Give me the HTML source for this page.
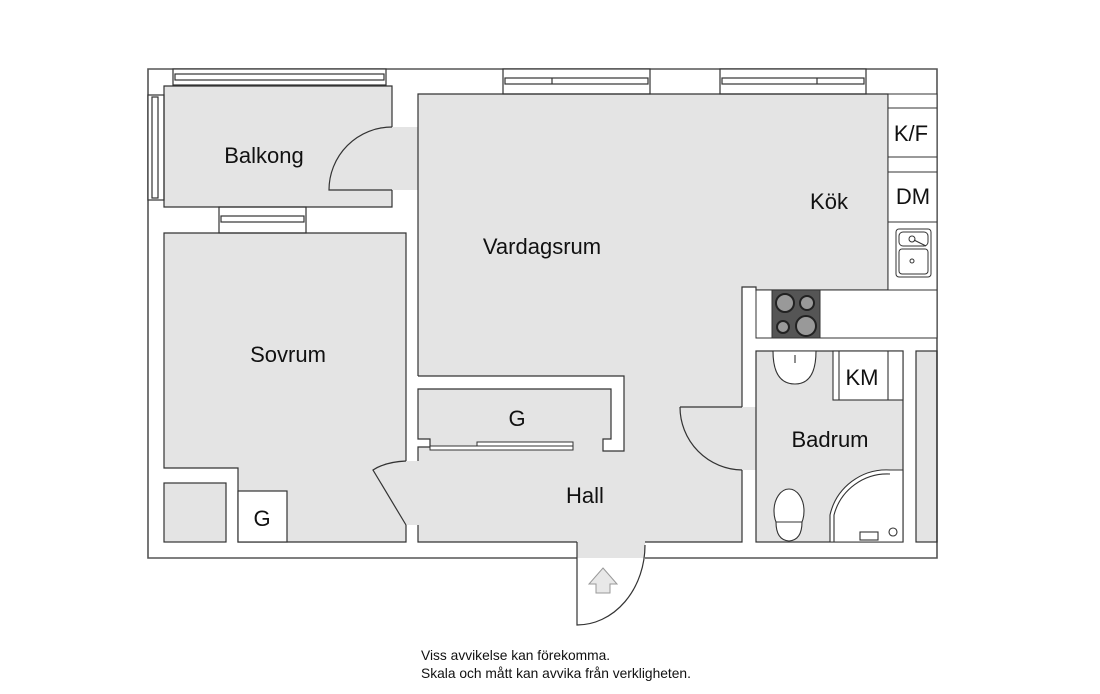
<!DOCTYPE html>
<html><head><meta charset="utf-8"><style>
html,body{margin:0;padding:0;background:#fff;}
svg{display:block;}
text{font-family:"Liberation Sans",Arial,sans-serif;fill:#111;}
</style></head><body>
<svg width="1100" height="694" viewBox="0 0 1100 694" xmlns="http://www.w3.org/2000/svg">
<g fill="#e4e4e4" stroke="none">
<rect x="164" y="86" width="228" height="121"/>
<rect x="392" y="127" width="26" height="63"/>
<polygon points="164,233 406,233 406,542 238,542 238,468 164,468"/>
<polygon points="418,94 888,94 888,290 756,290 756,287 742,287 742,542 418,542"/>
<rect x="406" y="461" width="12" height="64"/>
<path d="M406,461 Q385,462 373,470 L406,525 Z"/>
<rect x="742" y="407" width="14" height="63"/>
<rect x="577" y="542" width="68" height="16"/>
<rect x="756" y="351" width="147" height="191"/>
<rect x="916" y="351" width="21" height="191"/>
<rect x="164" y="483" width="62" height="59"/>
</g>
<polygon points="418,376 624,376 624,451 603,451 603,439 611,439 611,389 418,389" fill="#fff"/>
<rect x="418" y="439" width="12" height="8" fill="#fff"/>
<g fill="none" stroke="#555" stroke-width="1.6">
<polyline points="577,558 148,558 148,69 937,69 937,558 645,558"/>
</g>
<g fill="#fff" stroke="#333" stroke-width="1.2">
<rect x="173" y="69" width="213" height="16"/>
<rect x="175" y="74" width="209" height="6"/>
<rect x="503" y="69" width="147" height="25"/>
<rect x="505" y="78" width="143" height="6"/><line x1="552" y1="78" x2="552" y2="84"/>
<rect x="720" y="69" width="146" height="25"/>
<rect x="722" y="78" width="142" height="6"/><line x1="817" y1="78" x2="817" y2="84"/>
<rect x="148" y="95" width="16" height="105"/>
<rect x="152" y="97" width="6" height="101"/>
<rect x="219" y="207" width="87" height="26"/>
<rect x="221" y="216" width="83" height="6"/>
</g>
<g fill="none" stroke="#333" stroke-width="1.2">
<polyline points="392,127 392,86 164,86 164,207 392,207 392,190"/>
<path d="M392,127 A63,63 0 0 0 329,190 H392"/>
<polyline points="406,461 406,233 164,233 164,468 238,468 238,542 406,542 406,525"/>
<rect x="164" y="483" width="62" height="59"/>
<rect x="238" y="491" width="49" height="51" fill="#fff"/>
<polyline points="418,376 418,94 888,94 888,290 756,290 756,287 742,287 742,407"/>
<polyline points="742,470 742,542 645,542"/>
<polyline points="577,542 418,542 418,525"/>
<polyline points="418,461 418,447 430,447 430,439 418,439 418,389 611,389 611,439 603,439 603,451 624,451 624,376 418,376"/>
<path d="M680,407 H742 M680,407 A63,63 0 0 0 742,470"/>
<path d="M406,461 Q385,462 373,470 L406,525"/>
<path d="M577,542 V625 A68,80 0 0 0 645,545"/>
<rect x="756" y="351" width="147" height="191"/>
<rect x="916" y="351" width="21" height="191"/>
</g>
<g fill="#fff" stroke="#333" stroke-width="1">
<rect x="430" y="446" width="143" height="4"/>
<rect x="477" y="442" width="96" height="4"/>
</g>
<polygon points="603,568 617,584 610,584 610,593 596,593 596,584 589,584" fill="#e8e8e8" stroke="#999" stroke-width="1"/>
<g fill="#fff" stroke="#333" stroke-width="1">
<rect x="888" y="94" width="49" height="244"/>
<rect x="888" y="108" width="49" height="49"/>
<rect x="888" y="172" width="49" height="50"/>
<rect x="756" y="290" width="181" height="48"/>
<rect x="896" y="229" width="35" height="48" rx="3"/>
<rect x="899" y="232" width="29" height="14" rx="4"/>
<rect x="899" y="249" width="29" height="25" rx="3"/>
<circle cx="912" cy="239" r="3"/><circle cx="912" cy="261" r="2"/>
<line x1="914" y1="240" x2="926" y2="246"/>
</g>
<rect x="772" y="290" width="48" height="48" fill="#555" stroke="#333"/>
<g fill="#999" stroke="#222" stroke-width="2">
<circle cx="785" cy="303" r="9"/><circle cx="807" cy="303" r="7"/>
<circle cx="783" cy="327" r="6"/><circle cx="806" cy="326" r="10"/>
</g>
<g fill="#fff" stroke="#333" stroke-width="1.1">
<rect x="833" y="351" width="70" height="49"/>
<line x1="839" y1="351" x2="839" y2="400"/><line x1="888" y1="351" x2="888" y2="400"/>
<path d="M773,351 H816 Q816,384 795,384 Q773,384 773,351 Z"/>
<line x1="795" y1="355" x2="795" y2="363"/>
<ellipse cx="789" cy="511" rx="15" ry="22"/>
<path d="M776,522 H802 Q802,540 789,541 Q776,540 776,522 Z"/>
<path d="M830,542 V515 A58,58 0 0 1 890,470 H903 V542 Z"/>
<path d="M834,542 V515 A55,55 0 0 1 890,474" fill="none"/>
<circle cx="893" cy="532" r="4"/>
<rect x="860" y="532" width="18" height="8"/>
</g>
<g font-size="22" text-anchor="middle">
<text x="264" y="163">Balkong</text>
<text x="542" y="254">Vardagsrum</text>
<text x="829" y="209">Kök</text>
<text x="911" y="141">K/F</text>
<text x="913" y="204">DM</text>
<text x="288" y="362">Sovrum</text>
<text x="517" y="426">G</text>
<text x="262" y="526">G</text>
<text x="585" y="503">Hall</text>
<text x="862" y="385">KM</text>
<text x="830" y="447">Badrum</text>
</g>
<g font-size="13.8">
<text x="421" y="660">Viss avvikelse kan förekomma.</text>
<text x="421" y="678">Skala och mått kan avvika från verkligheten.</text>
</g>
</svg>
</body></html>
